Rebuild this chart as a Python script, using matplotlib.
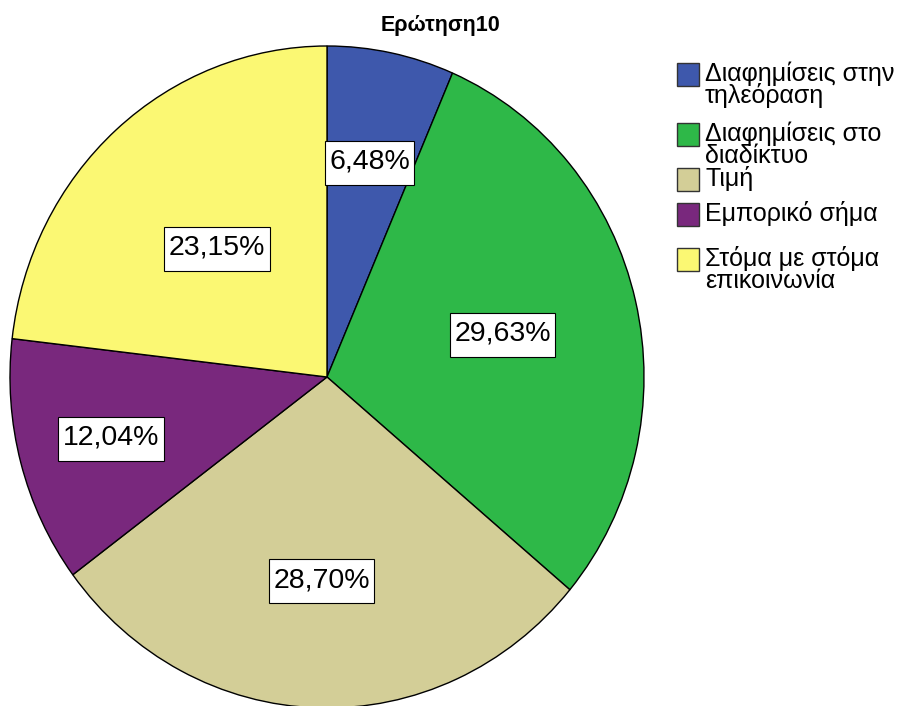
import matplotlib
matplotlib.use("Agg")
import matplotlib.pyplot as plt
from matplotlib.patches import Rectangle
import numpy as np

plt.rcParams['font.family'] = ['Liberation Sans', 'DejaVu Sans']

title = "Ερώτηση10"
categories = [
    "Διαφημίσεις στην\nτηλεόραση",
    "Διαφημίσεις στο\nδιαδίκτυο",
    "Τιμή",
    "Εμπορικό σήμα",
    "Στόμα με στόμα\nεπικοινωνία",
]
percentages = [6.48, 29.63, 28.70, 12.04, 23.15]
colors = ["#3E58AC", "#2EB848", "#D3CE97", "#79287D", "#FBF873"]

# radial placement of each percentage box (fraction of radius)
label_radius = [0.664, 0.569, 0.614, 0.706, 0.522]

W, H = 902, 706
fig = plt.figure(figsize=(W / 100, H / 100), dpi=100)

# pie axes in pixel geometry: centre (327, 377), rx 317, ry 331
cx, cy, rx, ry = 327, 377, 317, 331
ax = fig.add_axes([(cx - rx) / W, (H - cy - ry) / H, 2 * rx / W, 2 * ry / H])
wedges, _ = ax.pie(percentages, colors=colors, startangle=90, counterclock=False,
                   wedgeprops=dict(edgecolor="black", linewidth=1.0))
ax.set_aspect("auto")
ax.set_xlim(-1, 1)
ax.set_ylim(-1, 1)
ax.axis("off")
for w in wedges:
    w.set_clip_on(False)

# percentage labels
pct_texts = []
for w, pct, r in zip(wedges, percentages, label_radius):
    ang = np.deg2rad((w.theta1 + w.theta2) / 2)
    x, y = r * np.cos(ang), r * np.sin(ang)
    t = ax.text(x, y, f"{pct:.2f}%".replace(".", ","), ha="center", va="center",
                fontsize=20.5, color="black", zorder=5)
    pct_texts.append(t)

# white framed boxes behind the labels (pixel-sized padding)
fig.canvas.draw()
renderer = fig.canvas.get_renderer()
box_h = 44
for t in pct_texts:
    bb = t.get_window_extent(renderer)
    xc, yc = (bb.x0 + bb.x1) / 2, (bb.y0 + bb.y1) / 2
    bw = bb.width + 9
    rect = Rectangle((xc - bw / 2, yc - box_h / 2 - 1), bw, box_h, transform=None,
                     fc="white", ec="black", lw=0.8, zorder=4)
    ax.add_artist(rect)

fig.text(440 / W, 1 - 25 / H, title, ha="center", va="center",
         fontsize=15.5, fontweight="bold")

# legend drawn in pixel coordinates
patch_tops = [63, 123, 168, 203, 248]
px0, pw, ph = 677, 22, 23
for top, lab, col in zip(patch_tops, categories, colors):
    fig.patches.append(Rectangle((px0 / W, 1 - (top + ph) / H), pw / W, ph / H,
                                 transform=fig.transFigure, fc=col, ec="#333333", lw=1.0))
    fig.text(705 / W, 1 - (top - 2) / H, lab, ha="left", va="top",
             fontsize=18, linespacing=0.9, color="black")

fig.savefig("out.png", dpi=100)
